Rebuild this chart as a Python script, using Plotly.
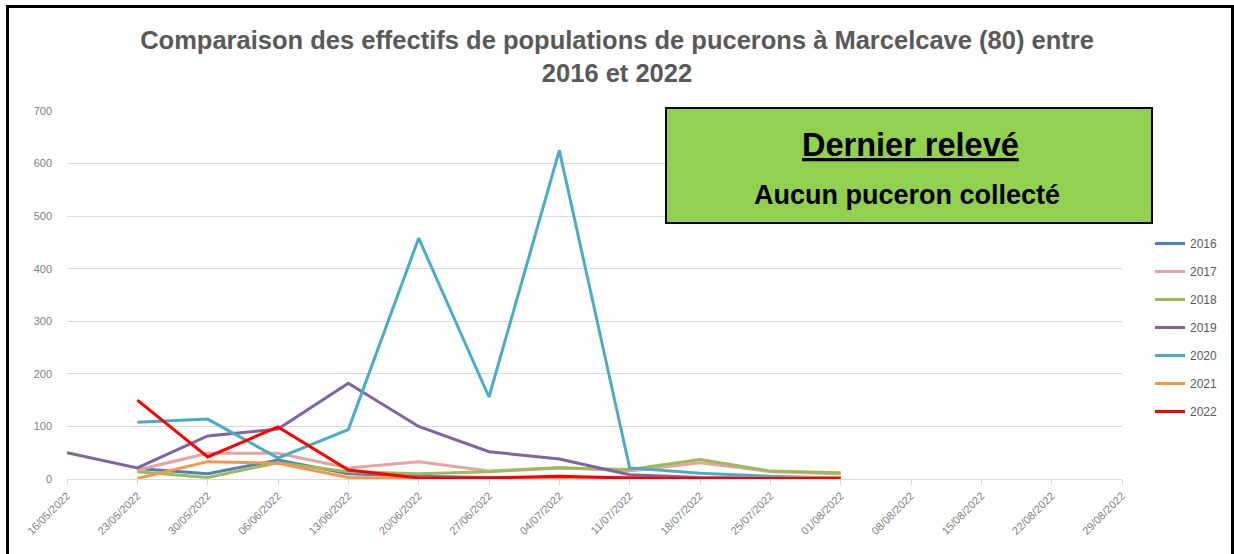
import plotly.graph_objects as go

dates = ["2022-05-16", "2022-05-23", "2022-05-30", "2022-06-06", "2022-06-13", "2022-06-20",
         "2022-06-27", "2022-07-04", "2022-07-11", "2022-07-18", "2022-07-25", "2022-08-01"]
tick_dates = ["2022-05-16", "2022-05-23", "2022-05-30", "2022-06-06", "2022-06-13", "2022-06-20",
              "2022-06-27", "2022-07-04", "2022-07-11", "2022-07-18", "2022-07-25", "2022-08-01",
              "2022-08-08", "2022-08-15", "2022-08-22", "2022-08-29"]
tick_labels = ["16/05/2022", "23/05/2022", "30/05/2022", "06/06/2022", "13/06/2022", "20/06/2022",
               "27/06/2022", "04/07/2022", "11/07/2022", "18/07/2022", "25/07/2022", "01/08/2022",
               "08/08/2022", "15/08/2022", "22/08/2022", "29/08/2022"]

y2016 = [None, 20, 10, 36, 10, 5, 3, 3, 2, 2, 1, 1]
y2017 = [None, 17, 49, 49, 21, 33, 15, 22, 15, 31, 14, 10]
y2018 = [None, 14, 3, 31, 14, 10, 14, 21, 18, 37, 15, 12]
y2019 = [50, 21, 82, 95, 182, 100, 52, 38, 8, 3, 2, 2]
y2020 = [None, 108, 114, 40, 94, 458, 156, 625, 21, 11, 5, 2]
y2021 = [None, 1, 33, 30, 3, 2, 1, 2, 1, 1, 1, 3]
y2022 = [None, 150, 42, 99, 17, 2, 2, 5, 2, 1, 1, 1]

series = [("2016", y2016, "#4F81BD"), ("2017", y2017, "#E6A3A1"), ("2018", y2018, "#9BBB59"),
          ("2019", y2019, "#8064A2"), ("2020", y2020, "#4BACC6"), ("2021", y2021, "#F79646"),
          ("2022", y2022, "#FF0000")]

fig = go.Figure()
for name, vals, col in series:
    fig.add_trace(go.Scatter(x=dates, y=vals, name=name, mode="lines", legendgroup=name,
                             line=dict(color=col, width=3)))

gray = "#7F7F7F"
L, T, R, B = 67, 111, 112, 75
W, H = 1234, 554
PW, PH = W - L - R, H - T - B


def px(xp):
    return (xp - L) / PW


def py(yp):
    return (H - B - yp) / PH


fig.update_layout(
    width=W, height=H,
    margin=dict(l=L, r=R, t=T, b=B, autoexpand=False),
    paper_bgcolor="white", plot_bgcolor="white",
    title=dict(text="<b>Comparaison des effectifs de populations de pucerons à Marcelcave (80) entre<br>2016 et 2022</b>",
               x=0.5, xanchor="center", y=1 - 49 / H, yanchor="middle",
               font=dict(family="Liberation Sans, Arial, sans-serif", size=25.5, color="#595959")),
    showlegend=True,
    legend=dict(x=px(1150), xanchor="left", y=py(229), yanchor="top", tracegroupgap=9,
                font=dict(family="Liberation Sans, sans-serif", size=12, color="#595959"),
                bgcolor="rgba(0,0,0,0)", itemwidth=30),
    xaxis=dict(type="date", range=["2022-05-16", "2022-08-29"], tickmode="array",
               tickvals=tick_dates, ticktext=tick_labels, tickangle=-45, automargin=False,
               tickfont=dict(family="Liberation Sans, sans-serif", size=11, color=gray),
               showgrid=False, showline=True, linecolor="#D9D9D9", linewidth=1,
               ticks="outside", ticklen=5, tickcolor="#D9D9D9", zeroline=False),
    yaxis=dict(range=[0, 700], dtick=100, automargin=False,
               tickfont=dict(family="Liberation Sans, sans-serif", size=11, color=gray),
               showgrid=True, gridcolor="#D9D9D9", gridwidth=1, zeroline=False, ticks="",
               ticklabelstandoff=14),
)

# outer frame
fig.add_shape(type="rect", xref="paper", yref="paper", x0=px(7.5), x1=px(1232.5), y0=py(600), y1=py(6.5),
              line=dict(color="black", width=3), fillcolor="rgba(0,0,0,0)", layer="above")
# green box
fig.add_shape(type="rect", xref="paper", yref="paper", x0=px(666), x1=px(1152), y0=py(223), y1=py(108),
              line=dict(color="black", width=2), fillcolor="#92D050", layer="above")
fig.add_annotation(xref="paper", yref="paper", x=px(910), y=py(145), xanchor="center", yanchor="middle",
                   showarrow=False, text="<b><u>Dernier relevé</u></b>",
                   font=dict(family="Liberation Sans, sans-serif", size=32.5, color="black"))
fig.add_annotation(xref="paper", yref="paper", x=px(907), y=py(195), xanchor="center", yanchor="middle",
                   showarrow=False, text="<b>Aucun puceron collecté</b>",
                   font=dict(family="Liberation Sans, sans-serif", size=27, color="black"))

fig.write_html("out.html", post_script="document.body.style.margin='0px';",
               config={"displayModeBar": False})
